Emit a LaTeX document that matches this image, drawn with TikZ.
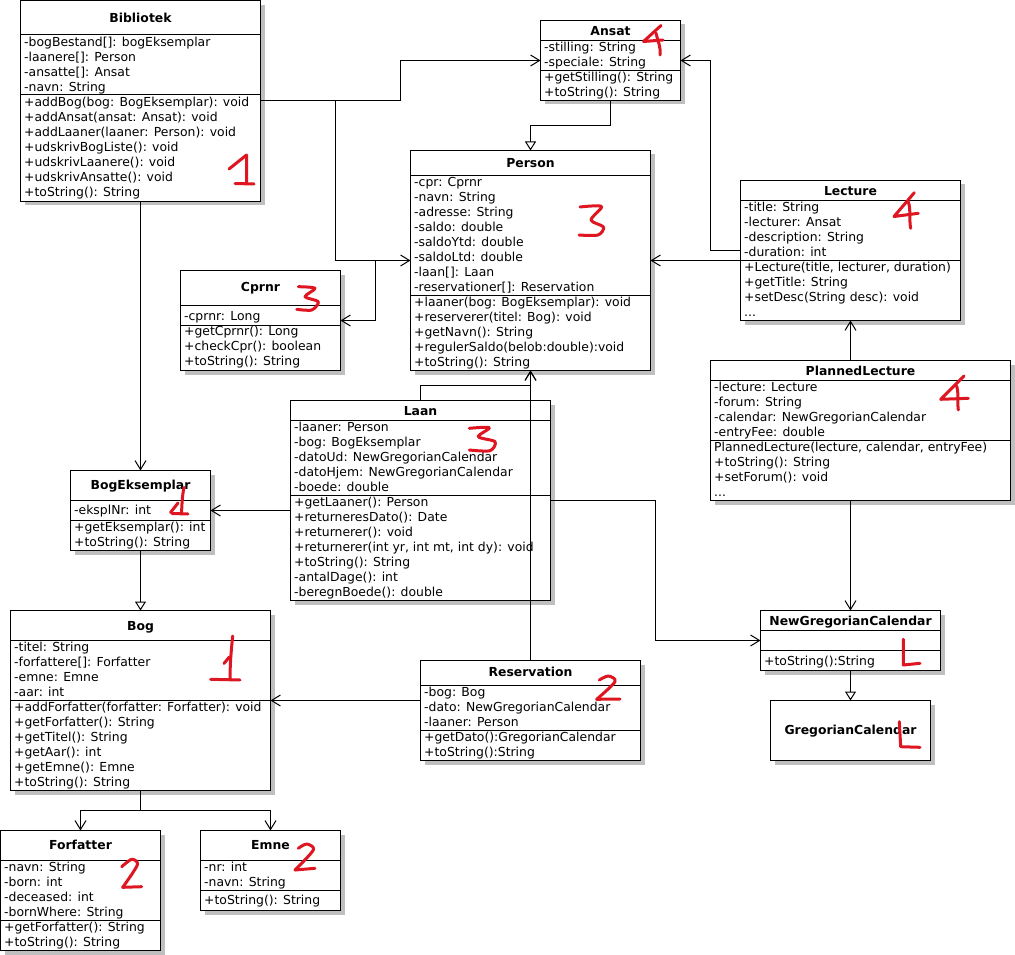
\documentclass[tikz,border=0pt]{standalone}
\usepackage{fontspec}
\setmainfont{DejaVu Sans}
\usetikzlibrary{arrows.meta,shadows,calc}

\definecolor{handred}{RGB}{222,22,34}
\newcommand\umlfont{\fontsize{12.4}{15}\selectfont}
\newcommand\umldots{...}

\tikzset{
  classbox/.style={draw, fill=white, line width=1pt, inner sep=0pt, outer sep=0pt,
    drop shadow={shadow xshift=4pt, shadow yshift=-4pt, fill=black!25, opacity=1}},
  divider/.style={line width=1pt},
  classname/.style={anchor=base, inner sep=0pt, font=\umlfont\bfseries},
  member/.style={anchor=base west, inner sep=0pt, font=\umlfont},
  assoc/.style={line width=1pt, -{Straight Barb[length=9pt,width=11pt]}},
  inherit/.style={line width=1pt, -{Triangle[open,length=9pt,width=11pt,fill=white]}},
  scribble/.style={draw=handred, line width=3pt, line cap=round, line join=round},
}

% class frame: name, left, top, right, bottom, divider heights, title baseline, title
\newcommand\umlclass[8]{%
  \node[classbox, minimum width={#4-#2}, minimum height={#5-#3}] (#1) at ({(#2+#4)/2},{(#3+#5)/2}) {};
  \foreach \d in {#6} \draw[divider] (#2,\d) -- (#4,\d);
  \node[classname] (#1-name) at ({(#2+#4)/2},#7) {#8};
}
% member lines: name prefix, x, first baseline, list
\newcommand\umlrows[4]{%
  \foreach \m [count=\k] in {#4}
    \node[member] (#1-\k) at (#2,{#3+15*(\k-1)}) {\m};
}

\begin{document}
\begin{tikzpicture}[x=1pt, y=-1pt]
\path[use as bounding box, fill=white] (0,0) rectangle (1015,955);

% ---- Bibliotek
\umlclass{bib}{20.5}{1}{260.5}{201}{35,95}{22.5}{Bibliotek}
\umlrows{bib-a}{24}{46.9}{-bogBestand[]: bogEksemplar, -laanere[]: Person, -ansatte[]: Ansat, -navn: String}
\umlrows{bib-m}{24}{106.9}{+addBog(bog: BogEksemplar): void, +addAnsat(ansat: Ansat): void, +addLaaner(laaner: Person): void, +udskrivBogListe(): void, +udskrivLaanere(): void, +udskrivAnsatte(): void, +toString(): String}

% ---- Ansat
\umlclass{ansat}{540.5}{20.5}{680.5}{100.5}{40.5,70.5}{35.2}{Ansat}
\umlrows{ansat-a}{544}{51.9}{-stilling: String, -speciale: String}
\umlrows{ansat-m}{544}{81.9}{+getStilling(): String, +toString(): String}

% ---- Person
\umlclass{person}{410.5}{150.5}{650.5}{370.5}{175.5,295.5}{167.2}{Person}
\umlrows{person-a}{414}{186.9}{-cpr: Cprnr, -navn: String, -adresse: String, -saldo: double, -saldoYtd: double, -saldoLtd: double, -laan[]: Laan, -reservationer[]: Reservation}
\umlrows{person-m}{414}{306.9}{+laaner(bog: BogEksemplar): void, +reserverer(titel: Bog): void, +getNavn(): String, +regulerSaldo(belob:double):void, +toString(): String}

% ---- Lecture
\umlclass{lecture}{740.5}{180.5}{960.5}{320.5}{200.5,260.5}{195.2}{Lecture}
\umlrows{lecture-a}{744}{211.9}{-title: String, -lecturer: Ansat, -description: String, -duration: int}
\umlrows{lecture-m}{744}{271.9}{{+Lecture(title, lecturer, duration)}, +getTitle: String, +setDesc(String desc): void, \umldots}

% ---- PlannedLecture
\umlclass{planned}{710.5}{360.5}{1010.5}{500.5}{380.5,440.5}{375.2}{PlannedLecture}
\umlrows{planned-a}{714}{391.5}{-lecture: Lecture, -forum: String, -calendar: NewGregorianCalendar, -entryFee: double}
\umlrows{planned-m}{714}{451.5}{{PlannedLecture(lecture, calendar, entryFee)}, +toString(): String, +setForum(): void, \umldots}

% ---- Cprnr
\umlclass{cprnr}{180.5}{270.5}{340.5}{370.5}{305.5,325.5}{291.8}{Cprnr}
\umlrows{cprnr-a}{184}{320.2}{-cprnr: Long}
\umlrows{cprnr-m}{184}{335.9}{+getCprnr(): Long, +checkCpr(): boolean, +toString(): String}

% ---- Laan
\umlclass{laan}{290.5}{400.5}{550.5}{600.5}{420.5,495.5}{415.2}{Laan}
\umlrows{laan-a}{294}{431.9}{-laaner: Person, -bog: BogEksemplar, -datoUd: NewGregorianCalendar, -datoHjem: NewGregorianCalendar, -boede: double}
\umlrows{laan-m}{294}{506.9}{+getLaaner(): Person, +returneresDato(): Date, +returnerer(): void, {+returnerer(int yr, int mt, int dy): void}, +toString(): String, -antalDage(): int, -beregnBoede(): double}

% ---- BogEksemplar
\umlclass{bogeks}{70.5}{470.5}{210.5}{550.5}{500.5,520.5}{489.5}{BogEksemplar}
\umlrows{bogeks-a}{74}{514.9}{-eksplNr: int}
\umlrows{bogeks-m}{74}{531.9}{+getEksemplar(): int, +toString(): String}

% ---- Bog
\umlclass{bog}{10.5}{610.5}{270.5}{790.5}{640.5,700.5}{630.2}{Bog}
\umlrows{bog-a}{14}{651.9}{-titel: String, -forfattere[]: Forfatter, -emne: Emne, -aar: int}
\umlrows{bog-m}{14}{711.9}{+addForfatter(forfatter: Forfatter): void, +getForfatter(): String, +getTitel(): String, +getAar(): int, +getEmne(): Emne, +toString(): String}

% ---- Reservation
\umlclass{reservation}{420.5}{660.5}{640.5}{760.5}{685.5,730.5}{676.8}{Reservation}
\umlrows{reservation-a}{424}{696.9}{-bog: Bog, -dato: NewGregorianCalendar, -laaner: Person}
\umlrows{reservation-m}{424}{741.5}{+getDato():GregorianCalendar, +toString():String}

% ---- NewGregorianCalendar
\umlclass{ngc}{760.5}{610.5}{940.5}{670.5}{630.5,650.5}{625.2}{NewGregorianCalendar}
\umlrows{ngc-m}{764}{665.2}{+toString():String}

% ---- GregorianCalendar
\node[classbox, minimum width=160, minimum height=60] (greg) at (850.5,730.5) {};
\node[classname] (greg-name) at (850.5,734.5) {GregorianCalendar};

% ---- Forfatter
\umlclass{forfatter}{0.5}{830.5}{160.5}{950.5}{860.5,920.5}{849.5}{Forfatter}
\umlrows{forfatter-a}{4}{871.9}{-navn: String, -born: int, -deceased: int, -bornWhere: String}
\umlrows{forfatter-m}{4}{931.5}{+getForfatter(): String, +toString(): String}

% ---- Emne
\umlclass{emne}{200.5}{830.5}{340.5}{910.5}{860.5,890.5}{849.5}{Emne}
\umlrows{emne-a}{204}{871.9}{-nr: int, -navn: String}
\umlrows{emne-m}{204}{904.9}{+toString(): String}

% ---- associations and generalisations
\draw[assoc] (bib.east) -- ++(140,0) |- (ansat.west);
\draw[assoc] (bib.east) -- ++(75,0) |- (person.west);
\draw[assoc] (person.west) -- ++(-35,0) |- (cprnr.east);
\draw[assoc] (bib.south) -- (bogeks.north);
\draw[inherit] (ansat.south) -- ++(0,25) -| (person.north);
\draw[assoc] (lecture.west) -- ++(-30,0) |- (ansat.east);
\draw[assoc] (lecture.west |- person.east) -- (person.east);
\draw[assoc] (lecture.south |- planned.north) -- (lecture.south);
\draw[assoc] (ngc.north |- planned.south) -- (ngc.north);
\draw[inherit] (ngc.south) -- (greg.north);
\draw[assoc] (laan.north) -- ++(0,-15) -| (person.south);
\draw[assoc] (reservation.north) -- (person.south);
\draw[assoc] (laan.west |- bogeks.east) -- (bogeks.east);
\draw[assoc] (laan.east) -- ++(105,0) |- (ngc.west);
\draw[inherit] (bogeks.south) -- (bog.north);
\draw[assoc] (reservation.west |- bog.east) -- (bog.east);
\draw[assoc] (bog.south) -- ++(0,20) -| (forfatter.north);
\draw[assoc] (bog.south) -- ++(0,20) -| (emne.north);

% ---- handwritten numbering
% 1 on Bibliotek
\draw[scribble] (229,169) -- (246.5,155) -- (246.5,183);
\draw[scribble] (235,183.5) -- (254,184);
% 4 on Ansat
\draw[scribble] (661,25.5) -- (643.5,41.5) -- (663,40);
\draw[scribble] (656,33) .. controls (658,42) and (661,47) .. (660,55);
% 3 on Person
\draw[scribble] plot[smooth, tension=0.5] coordinates {(580,207) (601.5,206.5) (591,220) (603.5,227) (598,235) (579,235)};
% 4 on Lecture
\draw[scribble] (914.3,192.7) -- (894,216.5) -- (918.3,213.3);
\draw[scribble] (908.3,201.7) .. controls (911,210) and (909,220) .. (910.7,228.3);
% 4 on PlannedLecture
\draw[scribble] (964,376) -- (940.7,399.3) -- (968.3,398.3);
\draw[scribble] (956.7,386) .. controls (959,395) and (957,403) .. (958.3,410);
% 3 on Cprnr
\draw[scribble] plot[smooth, tension=0.5] coordinates {(298.3,286.7) (315,288.3) (305,296.7) (318.3,301.7) (311.7,310) (296.7,309.3)};
% 3 on Laan
\draw[scribble] plot[smooth, tension=0.5] coordinates {(469.3,428.3) (489.3,427.7) (478.3,436.7) (495,441.7) (490,450.7) (469.3,450)};
% 1 on BogEksemplar
\draw[scribble] (184,487.5) .. controls (182,497) and (182,505) .. (181.5,513);
\draw[scribble] (170.5,512.5) -- (178,503);
\draw[scribble] (172,513.5) -- (188,514);
% 1 on Bog
\draw[scribble] (232.7,636) .. controls (231,652) and (230,666) .. (230,679.3);
\draw[scribble] (224,663.5) -- (229.3,657);
\draw[scribble] (210.7,679.3) -- (240,680);
% 2 on Reservation
\draw[scribble] plot[smooth, tension=0.5] coordinates {(599.3,680) (608.3,676) (615,681.7) (596.7,699.3)};
\draw[scribble] (596.7,699.3) -- (620,699);
% L on NewGregorianCalendar
\draw[scribble] (903.3,639.3) -- (903.3,665) -- (920,663.3);
% L on GregorianCalendar
\draw[scribble] (899.3,721.7) -- (900.7,746.7) -- (920,747.3);
% 2 on Forfatter
\draw[scribble] plot[smooth, tension=0.5] coordinates {(121.7,866.7) (131.7,859.3) (137.3,865) (122.7,887.3)};
\draw[scribble] (122.7,887.3) -- (141.7,886.7);
% 2 on Emne
\draw[scribble] plot[smooth, tension=0.5] coordinates {(298.3,848.3) (306.7,844) (313.3,850) (295,870)};
\draw[scribble] (295,870) -- (315,868.3);
\end{tikzpicture}
\end{document}
